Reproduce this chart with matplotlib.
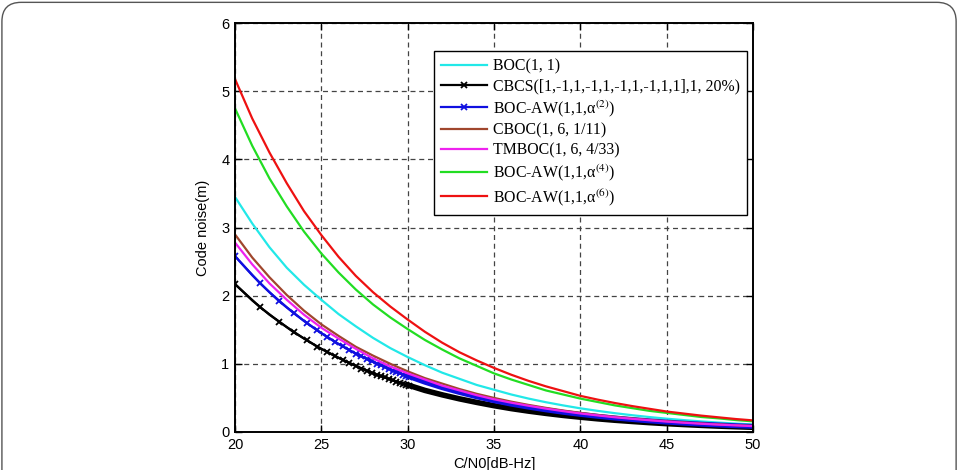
"""Code noise vs C/N0 for several BOC-family modulations."""
import matplotlib

matplotlib.use("Agg")
import matplotlib.pyplot as plt
from matplotlib.patches import FancyBboxPatch

# C/N0 grid in dB-Hz (1 dB steps)
cn0_db = [20, 21, 22, 23, 24, 25, 26, 27, 28, 29, 30, 31, 32, 33, 34, 35,
          36, 37, 38, 39, 40, 41, 42, 43, 44, 45, 46, 47, 48, 49, 50]

boc11 = [3.45, 3.06, 2.71, 2.41, 2.16, 1.94, 1.73, 1.55, 1.38, 1.23, 1.10,
         0.98, 0.87, 0.78, 0.69, 0.62, 0.55, 0.49, 0.437, 0.39, 0.347, 0.31,
         0.276, 0.246, 0.219, 0.195, 0.174, 0.155, 0.138, 0.123, 0.110]
cbcs = [2.17, 1.93, 1.72, 1.54, 1.37, 1.22, 1.09, 0.97, 0.86, 0.77, 0.69,
        0.61, 0.545, 0.486, 0.434, 0.386, 0.343, 0.306, 0.273, 0.243, 0.217,
        0.193, 0.172, 0.154, 0.137, 0.122, 0.109, 0.097, 0.086, 0.077, 0.069]
bocaw2 = [2.58, 2.30, 2.05, 1.83, 1.63, 1.45, 1.29, 1.15, 1.03, 0.92, 0.82,
          0.73, 0.65, 0.58, 0.516, 0.459, 0.408, 0.364, 0.325, 0.289, 0.258,
          0.230, 0.205, 0.183, 0.163, 0.145, 0.129, 0.115, 0.103, 0.092, 0.082]
cboc = [2.90, 2.56, 2.27, 2.01, 1.78, 1.58, 1.41, 1.25, 1.12, 1.00, 0.89,
        0.79, 0.71, 0.63, 0.56, 0.50, 0.445, 0.397, 0.354, 0.315, 0.281,
        0.250, 0.223, 0.199, 0.177, 0.158, 0.141, 0.125, 0.112, 0.100, 0.089]
tmboc = [2.78, 2.46, 2.18, 1.94, 1.72, 1.53, 1.37, 1.22, 1.08, 0.96, 0.86,
         0.77, 0.68, 0.61, 0.54, 0.48, 0.43, 0.385, 0.343, 0.306, 0.272,
         0.243, 0.216, 0.193, 0.172, 0.153, 0.136, 0.121, 0.108, 0.097, 0.086]
bocaw4 = [4.75, 4.20, 3.72, 3.31, 2.94, 2.62, 2.34, 2.09, 1.87, 1.68, 1.51,
          1.35, 1.21, 1.08, 0.97, 0.86, 0.77, 0.69, 0.61, 0.55, 0.49, 0.44,
          0.39, 0.35, 0.31, 0.28, 0.25, 0.22, 0.20, 0.175, 0.156]
bocaw6 = [5.18, 4.60, 4.10, 3.65, 3.24, 2.89, 2.57, 2.29, 2.05, 1.84, 1.65,
          1.47, 1.31, 1.17, 1.05, 0.94, 0.84, 0.75, 0.67, 0.60, 0.53, 0.475,
          0.425, 0.38, 0.34, 0.30, 0.27, 0.24, 0.215, 0.19, 0.17]

# marker positions on the two marked curves (they crowd together to the right)
marker_db = [20.0, 21.46, 22.55, 23.42, 24.15, 24.77, 25.31, 25.80, 26.23,
             26.63, 26.99, 27.32, 27.63, 27.92, 28.20, 28.45, 28.69, 28.92,
             29.14, 29.34, 29.54, 29.73, 29.91, 30.09]
cbcs_marks = [2.17, 1.83, 1.62, 1.46, 1.35, 1.25, 1.18, 1.11, 1.06, 1.01,
              0.97, 0.93, 0.90, 0.87, 0.84, 0.82, 0.80, 0.78, 0.76, 0.74,
              0.72, 0.71, 0.69, 0.68]
bocaw2_marks = [2.58, 2.18, 1.92, 1.74, 1.60, 1.49, 1.40, 1.32, 1.26, 1.20,
                1.15, 1.11, 1.07, 1.04, 1.00, 0.98, 0.95, 0.92, 0.90, 0.88,
                0.86, 0.84, 0.82, 0.81]

x_ticks = [20, 25, 30, 35, 40, 45, 50]
y_ticks = [0, 1, 2, 3, 4, 5, 6]

plt.rcParams["font.family"] = ["Liberation Sans", "DejaVu Sans"]
plt.rcParams["mathtext.fontset"] = "stix"

fig = plt.figure(figsize=(9.59, 4.70), dpi=100)
fig.patches.append(FancyBboxPatch(
    (0.002, -0.05), 0.995, 1.045, boxstyle="round,pad=0,rounding_size=0.02",
    transform=fig.transFigure, facecolor="none", edgecolor="#555555",
    linewidth=1.0, mutation_aspect=959 / 470))

ax = fig.add_axes([0.2450, 0.0809, 0.5402, 0.8700])

lw = 1.6
ax.plot(cn0_db, boc11, color="#22e8e8", lw=lw, label="BOC(1, 1)")
ax.plot(cn0_db, cbcs, color="black", lw=lw)
ax.plot(cn0_db[10:], cbcs[10:], color="black", lw=4.0)
ax.plot(marker_db, cbcs_marks, color="black", lw=lw, marker="x", ms=4,
        mew=1.3, label="CBCS([1,-1,1,-1,1,-1,1,-1,1,1],1, 20%)")
ax.plot(cn0_db, bocaw2, color="#1010e0", lw=lw)
ax.plot(cn0_db[10:], bocaw2[10:], color="#1010e0", lw=3.6)
ax.plot(marker_db, bocaw2_marks, color="#1010e0", lw=lw, marker="x", ms=4,
        mew=1.3, label="BOC-AW(1,1,α$^{(2)}$)")
ax.plot(cn0_db, cboc, color="#a0462d", lw=lw, label="CBOC(1, 6, 1/11)")
ax.plot(cn0_db, tmboc, color="#ee22ee", lw=lw, label="TMBOC(1, 6, 4/33)")
ax.plot(cn0_db, bocaw4, color="#22dd22", lw=lw, label="BOC-AW(1,1,α$^{(4)}$)")
ax.plot(cn0_db, bocaw6, color="#ee1111", lw=lw, label="BOC-AW(1,1,α$^{(6)}$)")

ax.set_xlim(20, 50)
ax.set_ylim(0, 6)
ax.set_xticks(x_ticks)
ax.set_yticks(y_ticks)
ax.tick_params(direction="in", length=5, width=1.0, top=True, right=True,
               labelsize=10.5, pad=4)
ax.grid(True, color="#444444", linestyle=(0, (4, 3)), linewidth=0.9)
for sp in ax.spines.values():
    sp.set_linewidth(1.4)

ax.set_xlabel("C/N0[dB-Hz]", fontsize=10.5, labelpad=4)
ax.set_ylabel("Code noise(m)", fontsize=10.5, labelpad=8)

leg = ax.legend(loc="upper left", bbox_to_anchor=(0.384, 0.9315),
                borderaxespad=0, fancybox=False, framealpha=1,
                edgecolor="black", handlelength=2.9, handletextpad=0.4,
                borderpad=0.45, labelspacing=0.25,
                prop={"family": "Liberation Serif", "size": 11.4})
leg.get_frame().set_linewidth(1.0)

fig.savefig("out.png", dpi=100)
